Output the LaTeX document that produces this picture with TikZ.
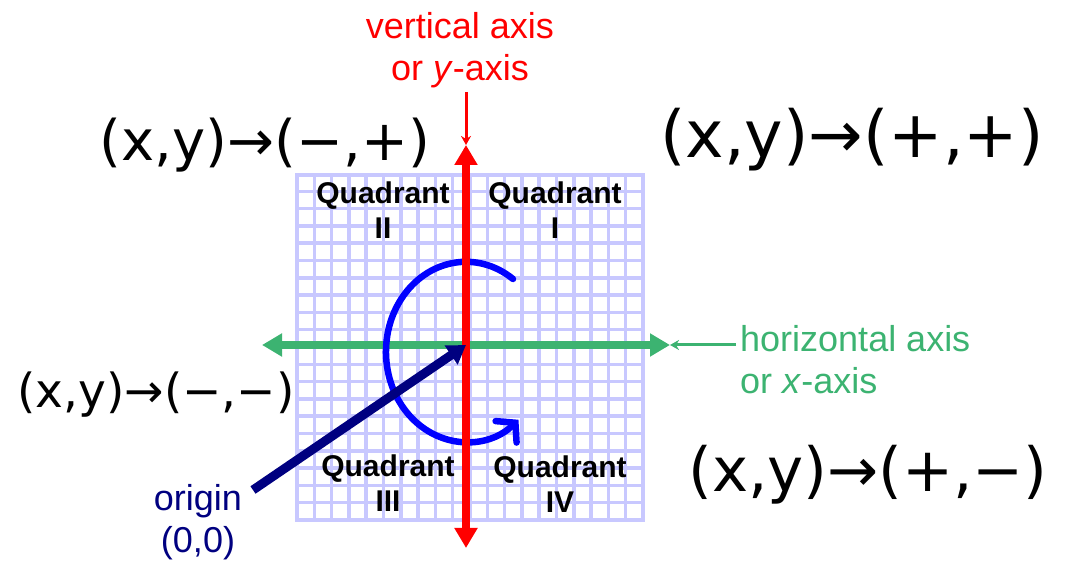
\documentclass[tikz,border=0pt]{standalone}
\usepackage{fontspec}
\setmainfont{Liberation Sans}
\newfontfamily\handfont{DejaVu Sans}
\usetikzlibrary{arrows.meta}
\definecolor{axisgreen}{RGB}{60,179,113}
\definecolor{gridblue}{RGB}{200,200,255}
\definecolor{originblue}{RGB}{0,0,128}
\begin{document}
\begin{tikzpicture}[x=1pt, y=1pt,
    quad/.style={font=\fontsize{30}{35}\selectfont\bfseries, align=center, inner sep=2pt},
    axlabel/.style={font=\fontsize{36}{42}\selectfont, inner sep=4pt},
    hand/.style={font=\handfont, inner sep=0pt},
    pointer/.style={line width=3pt, -{Stealth[length=9pt, width=10pt]}},
    bigtip/.style={{Triangle[length=20pt, width=22pt]}-{Triangle[length=20pt, width=22pt]}, line width=8pt}]
    \useasboundingbox (0,0) rectangle (1072,565);
    % grid paper
    \draw[gridblue, line width=3.5pt, shift={(297,45)}, step=17.3] (0,0) grid (346,345);
    \draw[gridblue, line width=3.5pt] (297,45) rectangle (643,390);
    % quadrant names
    \node[quad] (q2) at (383,355) {Quadrant\\II};
    \node[quad] (q1) at (555,355) {Quadrant\\I};
    \node[quad] (q3) at (388,82) {Quadrant\\III};
    \node[quad] (q4) at (560,81) {Quadrant\\IV};
    % axes
    \coordinate (O) at (466,220);
    \coordinate (ytop) at (466,420);
    \coordinate (ybot) at (466,17);
    \coordinate (xleft) at (262,220);
    \coordinate (xright) at (670,220);
    \draw[bigtip, axisgreen] (xleft) -- (xright);
    % turning direction
    \coordinate (spinstart) at (513,286);
    \draw[blue, line width=6.5pt, line cap=round, -{Straight Barb[length=13pt, width=30pt, line cap=round]}]
        (spinstart) arc[start angle=54, end angle=311, x radius=80, y radius=90];
    \draw[bigtip, red] (ybot) -- (ytop);
    % labels
    \node[axlabel, red, align=center] (vlabel) at (460,515) {vertical axis\\ or \textit{y}-axis};
    \node[axlabel, axisgreen, align=left, anchor=west] (hlabel) at (736,205) {horizontal axis\\or \textit{x}-axis};
    \node[axlabel, originblue, align=center] (olabel) at (198,43) {origin\\(0,0)};
    \draw[pointer, red] (vlabel.south -| ytop) -- (ytop);
    \draw[pointer, axisgreen] (hlabel.west |- xright) -- (xright);
    \coordinate (otail) at (253,75);
    \draw[originblue, line width=9pt, -{Triangle[length=18pt, width=22pt]}] (otail) -- (O);
    % signs in each quadrant
    \node[hand, font=\handfont\fontsize{56}{60}\selectfont] (signs2) at (265,420) {(x,y)→(−,+)};
    \node[hand, font=\handfont\fontsize{65}{70}\selectfont] (signs1) at (852,425) {(x,y)→(+,+)};
    \node[hand, font=\handfont\fontsize{47}{52}\selectfont] (signs3) at (156,170) {(x,y)→(−,−)};
    \node[hand, font=\handfont\fontsize{61}{66}\selectfont] (signs4) at (868,90) {(x,y)→(+,−)};
\end{tikzpicture}
\end{document}
